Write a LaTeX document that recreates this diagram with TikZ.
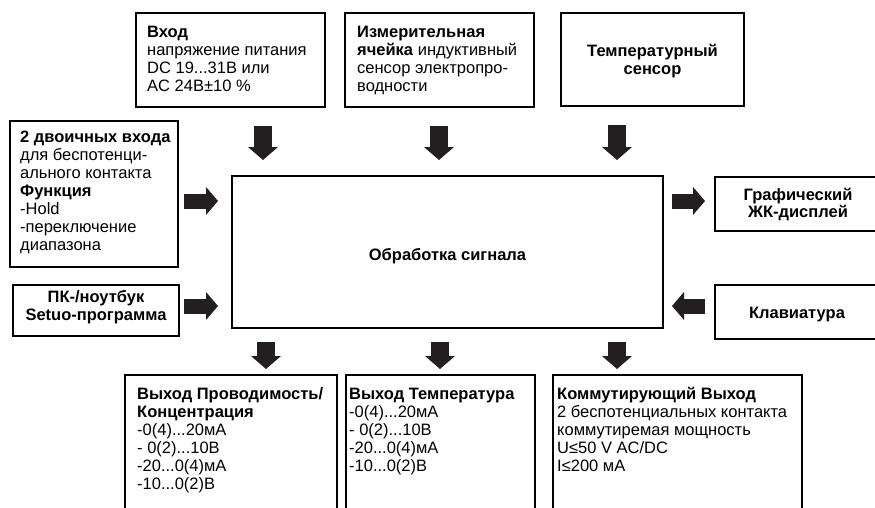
\documentclass[tikz,border=0pt]{standalone}
\usepackage{fontspec}
\setmainfont{Liberation Sans}
\usetikzlibrary{arrows.meta}
\definecolor{ink}{HTML}{231F20}
\newcommand{\fs}{\fontsize{16.5}{18}\selectfont}
\newcommand{\fst}{\rule{0pt}{13pt}}
\begin{document}
\begin{tikzpicture}[x=1pt,y=-1pt,
  box/.style={draw=black, line width=1.8pt, inner sep=0pt, outer sep=0pt},
  txt/.style={inner sep=0pt, anchor=north west, align=left, font=\fs},
  ctxt/.style={inner sep=0pt, align=center, font=\fs\bfseries},
  varrow/.style={color=ink, line width=18pt,
    -{Triangle[width=30pt,length=13pt,line width=0pt]}},
  harrow/.style={color=ink, line width=15pt,
    -{Triangle[width=28pt,length=12pt,line width=0pt]}}]
\useasboundingbox (0,0) rectangle (875,507);
\fill[white] (0,0) rectangle (875,507);
\clip (0,0) rectangle (875,507);

% boxes
\node[box, minimum width=189pt, minimum height=94pt] (vh)   at (230.5,60) {};
\node[box, minimum width=189pt, minimum height=94pt] (izm)  at (439.5,60) {};
\node[box, minimum width=183pt, minimum height=93pt] (temp) at (652.5,59.5) {};
\node[box, minimum width=168pt, minimum height=146pt] (inp) at (94,194) {};
\node[box, minimum width=166pt, minimum height=51pt] (pc)   at (96,310.5) {};
\node[box, minimum width=431pt, minimum height=152pt] (main) at (447.5,252) {};
\node[box, minimum width=170pt, minimum height=54pt] (lcd)  at (800,204) {};
\node[box, minimum width=170pt, minimum height=54pt] (klav) at (800,312) {};
\node[box, minimum width=212pt, minimum height=155pt] (out1) at (231,452.5) {};
\node[box, minimum width=189pt, minimum height=155pt] (out2) at (440.5,452.5) {};
\node[box, minimum width=249pt, minimum height=155pt] (out3) at (677.5,452.5) {};

% texts
\node[txt] (vht) at ([shift={(11,11)}]vh.north west)
  {\fst\textbf{Вход}\\напряжение питания\\DC 19...31В или\\AC 24В±10 \%};
\node[txt] (izmt) at ([shift={(12,11)}]izm.north west)
  {\fst\textbf{Измерительная}\\\textbf{ячейка} индуктивный\\сенсор электропро-\\водности};
\node[ctxt] (tempt) at ([yshift=-1.5pt]temp.center) {Температурный\\сенсор};
\node[txt] (inpt) at ([shift={(10,8)}]inp.north west)
  {\fst\textbf{2 двоичных входа}\\для беспотенци-\\ального контакта\\\textbf{Функция}\\-Hold\\-переключение\\диапазона};
\node[ctxt] (pct) at ([yshift=3pt]pc.center) {ПК-/ноутбук\\Setuo-программа};
\node[ctxt] (maint) at ([yshift=-4pt]main.center) {Обработка сигнала};
\node[ctxt, font=\fontsize{16.5}{17}\selectfont\bfseries] (lcdt) at ([xshift=-2pt]lcd.center) {Графический\\ЖК-дисплей};
\node[ctxt] (klavt) at ([xshift=-3pt,yshift=-3pt]klav.center) {Клавиатура};
\node[txt] (out1t) at ([shift={(12,11)}]out1.north west)
  {\fst\textbf{Выход Проводимость/}\\\textbf{Концентрация}\\-0(4)...20мА\\- 0(2)...10В\\-20...0(4)мА\\-10...0(2)В};
\node[txt] (out2t) at ([shift={(3,11)}]out2.north west)
  {\fst\textbf{Выход Температура}\\-0(4)...20мА\\- 0(2)...10В\\-20...0(4)мА\\-10...0(2)В};
\node[txt] (out3t) at ([shift={(4,11)}]out3.north west)
  {\fst\textbf{Коммутирующий Выход}\\2 беспотенциальных контакта\\коммутиремая мощность\\U≤50 V AC/DC\\I≤200 мА};

% arrow guide coordinates
\coordinate (ax1) at (263,0);
\coordinate (ax2) at (439,0);
\coordinate (ax3) at (617,0);
\coordinate (bx1) at (266,0);
\coordinate (bx2) at (440,0);
\coordinate (bx3) at (617,0);
\coordinate (ry1) at (0,201);
\coordinate (ry2) at (0,306);

% top arrows
\draw[varrow, shorten <=19pt, shorten >=16pt] (ax1 |- vh.south) -- (ax1 |- main.north);
\draw[varrow, shorten <=19pt, shorten >=16pt] (ax2 |- izm.south) -- (ax2 |- main.north);
\draw[varrow, shorten <=19pt, shorten >=16pt] (ax3 |- temp.south) -- (ax3 |- main.north);
% bottom arrows
\draw[varrow, shorten <=14pt, shorten >=6pt] (bx1 |- main.south) -- (bx1 |- out1.north);
\draw[varrow, shorten <=14pt, shorten >=6pt] (bx2 |- main.south) -- (bx2 |- out2.north);
\draw[varrow, shorten <=14pt, shorten >=6pt] (bx3 |- main.south) -- (bx3 |- out3.north);
% side arrows
\draw[harrow, shorten <=6pt, shorten >=14pt] (ry1 -| inp.east) -- (ry1 -| main.west);
\draw[harrow, shorten <=5pt, shorten >=14pt] (ry2 -| pc.east) -- (ry2 -| main.west);
\draw[harrow, shorten <=9pt, shorten >=10pt] (ry1 -| main.east) -- (ry1 -| lcd.west);
\draw[harrow, shorten <=10pt, shorten >=9pt] (ry2 -| klav.west) -- (ry2 -| main.east);
\end{tikzpicture}
\end{document}
